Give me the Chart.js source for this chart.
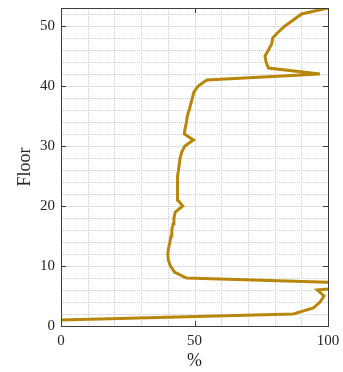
<!DOCTYPE html>
<html>
<head>
<meta charset="utf-8">
<script src="https://cdn.jsdelivr.net/npm/chart.js@4.4.1/dist/chart.umd.min.js"></script>
<style>
  html, body { margin: 0; padding: 0; background: #fff; }
  #wrap { width: 343px; height: 372px; }
</style>
</head>
<body>
<div id="wrap"><canvas id="c"></canvas></div>
<script>
// floor number and share (%) per floor
var floors = [1,2,3,4,5,6,7,8,9,10,11,12,13,14,15,16,17,18,19,20,21,22,23,24,25,26,27,
              28,29,30,31,32,33,34,35,36,37,38,39,40,41,42,43,44,45,46,47,48,49,50,51,52,53];
var percent = [0,87,94.5,97,98.5,96,120,47,42.5,41,40.2,40,40.3,40.8,41.2,41.5,42,42.3,42.8,45.6,
               43.7,43.7,43.6,43.6,43.7,44,44.3,44.6,45.2,46.4,49.6,46.2,46.5,47,47.3,48,48.6,49.2,
               49.8,51.4,54.6,97,77.7,76.8,76.4,77.7,78.9,79.3,81.4,83.9,87,90.1,100];
var xTicks = [0, 50, 100];
var yTicks = [0, 10, 20, 30, 40, 50];
var xMinor = [10, 20, 30, 40, 50, 60, 70, 80, 90];
var yMinor = [2,4,6,8,10,12,14,16,18,20,22,24,26,28,30,32,34,36,38,40,42,44,46,48,50,52];

var pts = floors.map((f, i) => ({x: percent[i], y: f}));
var txtColor = '#262626';
var serif = "'Liberation Serif', 'Times New Roman', serif";

// grid behind the line, matlab like (dotted minor, solid major)
var gridPlugin = {
  id: 'gridPlugin',
  beforeDatasetsDraw(chart) {
    let c = chart.ctx, a = chart.chartArea;
    let xs = chart.scales.x, ys = chart.scales.y;
    c.save();
    c.lineWidth = 1;
    yMinor.forEach(v => {
      let py = Math.round(ys.getPixelForValue(v)) + 0.5;
      if (v % 10 === 0) { c.setLineDash([]); c.strokeStyle = '#e0e0e0'; }
      else { c.setLineDash([1, 1]); c.strokeStyle = '#cccccc'; }
      c.beginPath(); c.moveTo(a.left, py); c.lineTo(a.right, py); c.stroke();
    });
    xMinor.forEach(v => {
      let px = Math.round(xs.getPixelForValue(v)) + 0.5;
      if (v === 50) { c.setLineDash([]); c.strokeStyle = '#e0e0e0'; }
      else { c.setLineDash([1, 1]); c.strokeStyle = '#cccccc'; }
      c.beginPath(); c.moveTo(px, a.top); c.lineTo(px, a.bottom); c.stroke();
    });
    c.restore();
  },
  afterDatasetsDraw(chart) {
    let c = chart.ctx, a = chart.chartArea;
    let xs = chart.scales.x, ys = chart.scales.y;
    c.save();
    c.strokeStyle = '#3c3c3c';
    c.lineWidth = 1;
    c.strokeRect(Math.round(a.left) + 0.5, Math.round(a.top) + 0.5,
                 Math.round(a.right - a.left), Math.round(a.bottom - a.top));
    // inward tick marks
    xTicks.forEach(v => {
      let px = Math.round(xs.getPixelForValue(v)) + 0.5;
      c.beginPath();
      c.moveTo(px, a.bottom); c.lineTo(px, a.bottom - 5);
      c.moveTo(px, a.top); c.lineTo(px, a.top + 5);
      c.stroke();
    });
    yTicks.forEach(v => {
      let py = Math.round(ys.getPixelForValue(v)) + 0.5;
      c.beginPath();
      c.moveTo(a.left, py); c.lineTo(a.left + 5, py);
      c.moveTo(a.right, py); c.lineTo(a.right - 5, py);
      c.stroke();
    });
    c.restore();
  }
};

new Chart(document.getElementById('c'), {
  type: 'scatter',
  data: {
    datasets: [{
      data: pts,
      showLine: true,
      borderColor: '#B8860B',
      borderWidth: 3,
      pointRadius: 0,
      tension: 0
    }]
  },
  options: {
    responsive: true,
    maintainAspectRatio: false,
    animation: false,
    layout: { padding: { top: 8, right: 15, left: 0, bottom: 0 } },
    plugins: { legend: { display: false }, tooltip: { enabled: false } },
    scales: {
      x: {
        type: 'linear',
        min: 0, max: 100,
        afterFit: s => { s.height = 46; s.paddingLeft = 0; s.paddingRight = 0; },
        afterBuildTicks: s => { s.ticks = xTicks.map(v => ({value: v})); },
        grid: { display: false, drawTicks: false },
        border: { display: false },
        ticks: { padding: 6, color: txtColor, font: { family: serif, size: 15 }, maxRotation: 0 },
        title: { display: true, text: '%', color: txtColor,
                 font: { family: serif, size: 18 }, padding: { top: 0, bottom: 0 } }
      },
      y: {
        type: 'linear',
        min: 0, max: 53,
        afterFit: s => { s.width = 61; s.paddingTop = 0; s.paddingBottom = 0; },
        afterBuildTicks: s => { s.ticks = yTicks.map(v => ({value: v})); },
        grid: { display: false, drawTicks: false },
        border: { display: false },
        ticks: { padding: 6, color: txtColor, font: { family: serif, size: 15 } },
        title: { display: true, text: 'Floor', color: txtColor,
                 font: { family: serif, size: 18 }, padding: { top: 14, bottom: 0 } }
      }
    }
  },
  plugins: [gridPlugin]
});
</script>
</body>
</html>
